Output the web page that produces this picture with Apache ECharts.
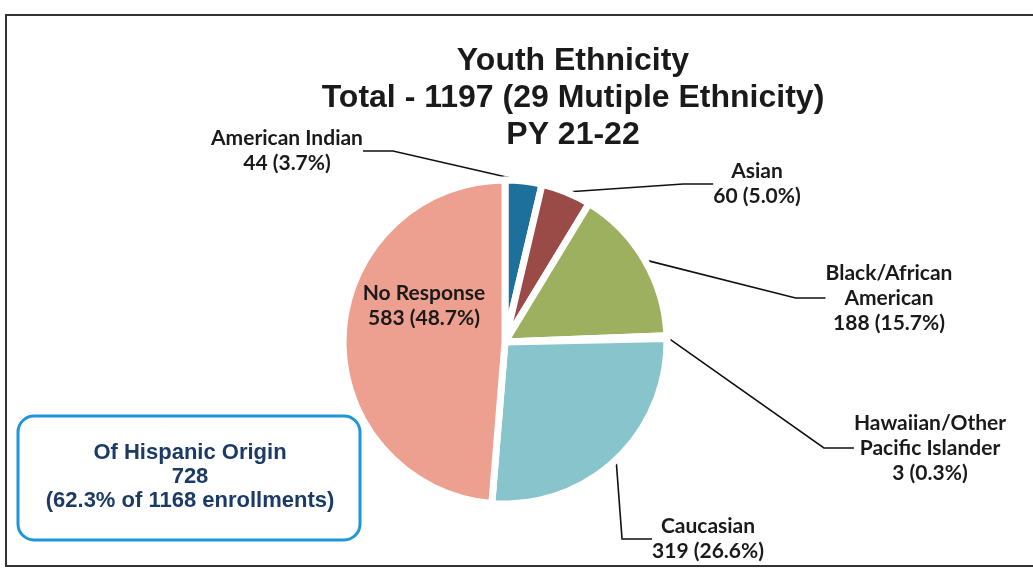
<!DOCTYPE html>
<html>
<head>
<meta charset="utf-8">
<title>Youth Ethnicity</title>
<script src="https://cdn.jsdelivr.net/npm/echarts@6/dist/echarts.min.js"></script>
<style>
	html, body { margin: 0; padding: 0; background: #fff; }
	#mychart { width: 1033px; height: 569px; }
</style>
</head>
<body>
<div id="mychart"></div>
<script>
	// slices go clockwise from 12 o'clock, same order as the original
	const names = ['American Indian', 'Asian', 'Black/African\nAmerican', 'Hawaiian/Other\nPacific Islander', 'Caucasian', 'No Response']
	const counts = [44, 60, 188, 3, 319, 583]
	const colors = ['#1d6f9c', '#9a4b47', '#9cb05f', '#9bb9d9', '#88c4cb', '#eea090']
	const titleText = 'Youth Ethnicity\nTotal - 1197 (29 Mutiple Ethnicity)\nPY 21-22'
	const hispanicText = 'Of Hispanic Origin\n728\n(62.3% of 1168 enrollments)'

	// where each label block sits (center of text)
	const labelPos = [
		[287, 151],
		[757, 184],
		[889, 298],
		[930, 448],
		[708, 539],
		[424, 306]
	]

	const ctx = document.getElementById('mychart')
	const chart = echarts.init(ctx, null, { renderer: 'canvas' })

	let pieData = []
	for (let i = 0; i < names.length; i++) {
		let item = {
			name: names[i],
			value: counts[i],
			itemStyle: { color: colors[i] }
		}
		if (names[i] == 'No Response') {
			item.label = { position: 'inside' }
			item.labelLine = { show: false }
		}
		pieData.push(item)
	}

	var option = {
		backgroundColor: '#fff',
		animation: false,
		title: {
			text: titleText,
			left: 568,
			top: 38,
			textAlign: 'center',
			textStyle: {
				fontFamily: 'Liberation Sans',
				fontWeight: 'bold',
				fontSize: 32,
				lineHeight: 37,
				color: '#1a1a1a'
			}
		},
		graphic: [
			{
				type: 'rect',
				silent: true,
				shape: { x: 6, y: 15, width: 1040, height: 551 },
				style: { fill: 'none', stroke: '#333', lineWidth: 2 }
			},
			{
				type: 'rect',
				silent: true,
				shape: { x: 18, y: 416, width: 342, height: 124, r: 16 },
				style: { fill: '#fff', stroke: '#1e96d8', lineWidth: 3 }
			},
			{
				type: 'text',
				silent: true,
				x: 190,
				y: 477,
				style: {
					text: hispanicText,
					align: 'center',
					verticalAlign: 'middle',
					fontFamily: 'Liberation Sans',
					fontWeight: 'bold',
					fontSize: 22,
					lineHeight: 24,
					fill: '#1b3a66'
				}
			}
		],
		series: [
			{
				type: 'pie',
				center: [505, 342],
				radius: 162,
				startAngle: 90,
				clockwise: true,
				avoidLabelOverlap: false,
				percentPrecision: 1,
				emphasis: { disabled: true },
				itemStyle: { borderWidth: 7, borderColor: '#fff' },
				label: {
					show: true,
					formatter: function (p) {
						return p.name + '\n' + p.value + ' (' + p.percent.toFixed(1) + '%)'
					},
					fontFamily: 'Lato',
					fontWeight: 'bold',
					fontSize: 21,
					lineHeight: 25,
					color: '#1a1a1a',
					align: 'center'
				},
				labelLine: {
					show: true,
					lineStyle: { color: '#111', width: 1.6 }
				},
				labelLayout: function (params) {
					const p = labelPos[params.dataIndex]
					return {
						x: p[0],
						y: p[1],
						align: 'center',
						verticalAlign: 'middle'
					}
				},
				data: pieData
			}
		]
	}
	chart.setOption(option)
</script>
</body>
</html>
